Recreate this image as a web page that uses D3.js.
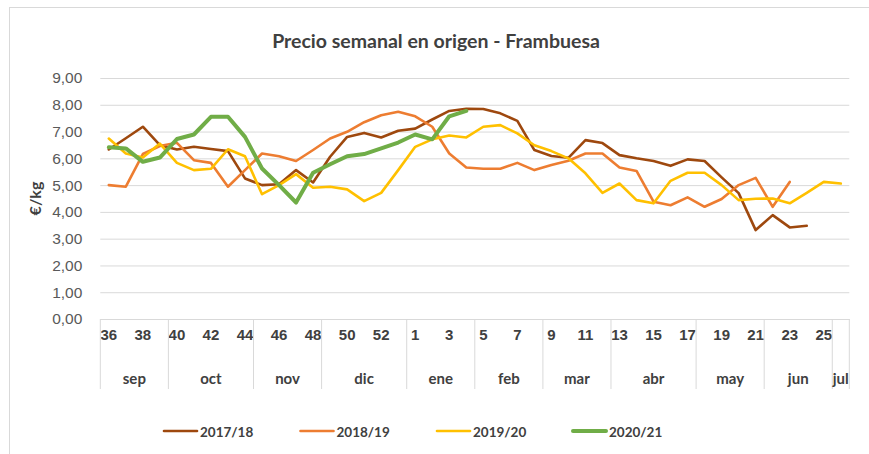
<!DOCTYPE html>
<html>
<head>
<meta charset="utf-8">
<script src="https://cdn.jsdelivr.net/npm/d3@7/dist/d3.min.js"></script>
<style>
  body { margin: 0; background: #fff; }
  svg { display: block; font-family: Lato, 'Open Sans', sans-serif; }
</style>
</head>
<body>
<svg id="chart" width="869" height="454"></svg>
<script>
// week numbers of the campaign (sep -> jul)
var weeks = [36, 37, 38, 39, 40, 41, 42, 43, 44, 45, 46, 47, 48, 49, 50, 51, 52, 53,
  1, 2, 3, 4, 5, 6, 7, 8, 9, 10, 11, 12, 13, 14, 15, 16, 17, 18, 19, 20, 21, 22, 23, 24, 25, 26];

// month groups under the week labels
var monthLabels = ['sep', 'oct', 'nov', 'dic', 'ene', 'feb', 'mar', 'abr', 'may', 'jun', 'jul'];
var monthWeeks = [4, 5, 4, 5, 4, 4, 4, 5, 4, 4, 1];

var yTicks = [0, 1, 2, 3, 4, 5, 6, 7, 8, 9];

var seriesNames = ['2017/18', '2018/19', '2019/20', '2020/21'];

// €/kg per week
var s1718 = [6.33, 6.75, 7.18, 6.49, 6.33, 6.43, 6.35, 6.27, 5.25, 5.00, 5.03, 5.56, 5.10, 6.06, 6.80, 6.95, 6.78, 7.03,
  7.11, 7.45, 7.77, 7.85, 7.84, 7.68, 7.40, 6.31, 6.09, 6.02, 6.68, 6.57, 6.12, 6.00, 5.90, 5.72, 5.96, 5.90,
  5.29, 4.70, 3.32, 3.88, 3.42, 3.48, null, null];
var s1819 = [5.00, 4.94, 6.16, 6.46, 6.58, 5.93, 5.83, 4.94, 5.56, 6.18, 6.08, 5.90, 6.31, 6.74, 6.99, 7.35, 7.61, 7.74,
  7.57, 7.18, 6.18, 5.66, 5.61, 5.61, 5.83, 5.56, 5.75, 5.91, 6.18, 6.18, 5.66, 5.53, 4.38, 4.25, 4.54, 4.19,
  4.48, 5.00, 5.27, 4.19, 5.12, null, null, null];
var s1920 = [6.74, 6.18, 6.03, 6.55, 5.83, 5.56, 5.61, 6.34, 6.08, 4.66, 5.00, 5.41, 4.90, 4.94, 4.84, 4.40, 4.71, 5.56,
  6.43, 6.71, 6.85, 6.78, 7.18, 7.24, 6.93, 6.49, 6.27, 6.00, 5.44, 4.71, 5.06, 4.44, 4.32, 5.16, 5.46, 5.46,
  5.00, 4.44, 4.49, 4.50, 4.32, 4.71, 5.12, 5.06];
var s2021 = [6.41, 6.37, 5.87, 6.03, 6.72, 6.89, 7.55, 7.55, 6.80, 5.62, 5.00, 4.35, 5.46, 5.78, 6.08, 6.16, 6.37, 6.59,
  6.89, 6.71, 7.57, 7.77, null, null, null, null, null, null, null, null, null, null, null, null, null, null,
  null, null, null, null, null, null, null, null];

var seriesValues = [s1718, s1819, s1920, s2021];
var seriesColors = ['#9e480e', '#ed7d31', '#ffc000', '#70ad47'];
var seriesWidths = [2.6, 2.6, 2.6, 4];

var svg = d3.select('#chart');

// plot area
var plotLeft = 100.3, plotRight = 849.3, plotTop = 78, plotBottom = 319;

// spanish number format: 9,00
var fmt = d3.formatLocale({ decimal: ',', thousands: '.', grouping: [3], currency: ['', '€'] }).format('.2f');

var x = d3.scaleBand()
  .domain(d3.range(weeks.length))
  .range([plotLeft, plotRight])
  .padding(0);

var y = d3.scaleLinear()
  .domain([0, 9])
  .range([plotBottom, plotTop]);

// outer chart border
svg.append('rect')
  .attr('x', 9.5)
  .attr('y', 7.5)
  .attr('width', 880)
  .attr('height', 470)
  .attr('fill', 'none')
  .attr('stroke', '#d9d9d9');

// title
svg.append('text')
  .attr('x', 436)
  .attr('y', 48)
  .attr('text-anchor', 'middle')
  .attr('fill', '#404040')
  .style('font-size', '19.5px')
  .style('font-weight', 'bold')
  .text('Precio semanal en origen - Frambuesa');

// y axis with gridlines
var yAxis = svg.append('g')
  .attr('transform', 'translate(' + plotLeft + ',0)')
  .call(d3.axisLeft(y)
    .tickValues(yTicks)
    .tickSize(-(plotRight - plotLeft))
    .tickPadding(18)
    .tickFormat(fmt));

yAxis.select('.domain').remove();
yAxis.selectAll('line')
  .attr('stroke', '#d9d9d9');
yAxis.selectAll('text')
  .attr('fill', '#595959')
  .style('font-size', '15.5px');

// y axis title
svg.append('text')
  .attr('transform', 'translate(41,' + ((plotTop + plotBottom) / 2) + ') rotate(-90)')
  .attr('text-anchor', 'middle')
  .attr('fill', '#404040')
  .style('font-size', '16px')
  .style('font-weight', 'bold')
  .text('€/kg');

// x axis: week labels every other week
var xAxis = svg.append('g')
  .attr('transform', 'translate(0,' + plotBottom + ')')
  .call(d3.axisBottom(x)
    .tickValues(d3.range(0, weeks.length, 2))
    .tickSize(0)
    .tickPadding(10)
    .tickFormat(function (i) { return weeks[i]; }));

xAxis.select('.domain')
  .attr('stroke', '#d9d9d9');
xAxis.selectAll('text')
  .attr('fill', '#404040')
  .style('font-size', '15px')
  .style('font-weight', 'bold');

// month groups
var starts = [];
var acc = 0;
monthWeeks.forEach(function (n) {
  starts.push(acc);
  acc += n;
});

var boundaries = starts.concat([weeks.length]);

svg.append('g')
  .selectAll('line')
  .data(boundaries)
  .join('line')
  .attr('x1', function (i) { return i < weeks.length ? x(i) : plotRight; })
  .attr('x2', function (i) { return i < weeks.length ? x(i) : plotRight; })
  .attr('y1', plotBottom)
  .attr('y2', 389)
  .attr('stroke', '#d9d9d9');

svg.append('g')
  .selectAll('text')
  .data(monthLabels)
  .join('text')
  .attr('x', function (d, k) {
    var a = x(starts[k]);
    var b = starts[k] + monthWeeks[k] < weeks.length ? x(starts[k] + monthWeeks[k]) : plotRight;
    return (a + b) / 2;
  })
  .attr('y', 384)
  .attr('text-anchor', 'middle')
  .attr('fill', '#404040')
  .style('font-size', '15px')
  .style('font-weight', 'bold')
  .text(function (d) { return d; });

// series lines
var line = d3.line()
  .defined(function (d) { return d !== null; })
  .x(function (d, i) { return x(i) + x.bandwidth() / 2; })
  .y(function (d) { return y(d); });

svg.append('g')
  .selectAll('path')
  .data(seriesValues)
  .join('path')
  .attr('d', line)
  .attr('fill', 'none')
  .attr('stroke', function (d, k) { return seriesColors[k]; })
  .attr('stroke-width', function (d, k) { return seriesWidths[k]; })
  .attr('stroke-linejoin', 'round')
  .attr('stroke-linecap', 'round');

// legend
var legendX = [164, 300.5, 437, 573];

var legend = svg.append('g')
  .selectAll('g')
  .data(seriesNames)
  .join('g')
  .attr('transform', function (d, k) { return 'translate(' + legendX[k] + ',431)'; });

legend.append('line')
  .attr('x1', 0)
  .attr('x2', 33)
  .attr('stroke', function (d, k) { return seriesColors[k]; })
  .attr('stroke-width', function (d, k) { return seriesWidths[k]; })
  .attr('stroke-linecap', 'round');

legend.append('text')
  .attr('x', 36)
  .attr('y', 5.5)
  .attr('fill', '#404040')
  .style('font-size', '13.5px')
  .style('font-weight', 'bold')
  .text(function (d) { return d; });
</script>
</body>
</html>
